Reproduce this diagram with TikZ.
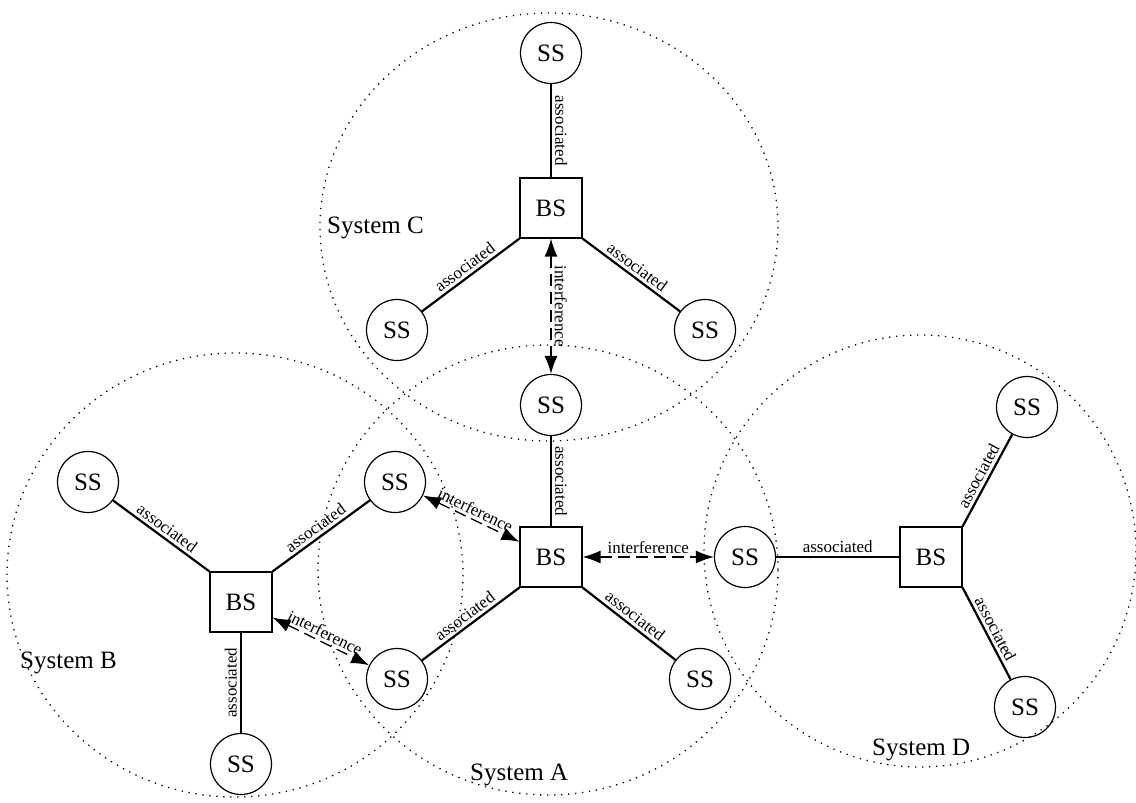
\documentclass[tikz,border=0pt]{standalone}
\usepackage{fontspec}
\setmainfont{Liberation Serif}
\usetikzlibrary{arrows.meta,shapes.geometric}

\begin{document}
\begin{tikzpicture}[
    x=1pt, y=-1pt,
    ss/.style={circle, draw, line width=1.2pt, minimum size=61pt, inner sep=0pt, font=\fontsize{25}{25}\selectfont},
    bs/.style={rectangle, draw, line width=1.2pt, minimum width=62pt, minimum height=60pt, inner sep=0pt, font=\fontsize{25}{25}\selectfont},
    assoc/.style={line width=2.2pt},
    interf/.style={line width=1.3pt, dash pattern=on 12pt off 6pt, {Latex[length=18pt,width=13pt]}-{Latex[length=18pt,width=13pt]}},
    lbl/.style={font=\fontsize{17}{17}\selectfont, sloped, above, inner sep=3pt},
    cell/.style={line width=1.3pt, dash pattern=on 1.3pt off 5.7pt},
    sysname/.style={font=\fontsize{25}{25}\selectfont, anchor=base west, inner sep=0pt}
]
    \useasboundingbox (0,0) rectangle (1136,803);

    % cells
    \draw[cell] (549,227) ellipse [x radius=229, y radius=214];
    \draw[cell] (548,570) ellipse [x radius=230, y radius=225];
    \draw[cell] (235,575) ellipse [x radius=228, y radius=222];
    \draw[cell] (920,551) ellipse [x radius=216, y radius=216];

    % System C
    \node[bs] (bsC) at (551,208) {BS};
    \node[ss] (ssCt) at (551,53) {SS};
    \node[ss] (ssCl) at (397,330) {SS};
    \node[ss] (ssCr) at (705,330) {SS};

    % System A
    \node[bs] (bsA) at (551,557) {BS};
    \node[ss] (ssAt) at (551,405) {SS};
    \node[ss] (ssAl) at (397,679) {SS};
    \node[ss] (ssAr) at (700,679) {SS};

    % System B
    \node[bs] (bsB) at (241,602) {BS};
    \node[ss] (ssBl) at (88,482) {SS};
    \node[ss] (ssBr) at (395,482) {SS};
    \node[ss] (ssBb) at (241,764) {SS};

    % System D
    \node[bs] (bsD) at (931,557) {BS};
    \node[ss] (ssDl) at (745,557) {SS};
    \node[ss] (ssDt) at (1027,407) {SS};
    \node[ss] (ssDb) at (1025,707) {SS};

    % system names
    \node[sysname] (nameC) at (327,233) {System C};
    \node[sysname] (nameB) at (20,668) {System B};
    \node[sysname] (nameA) at (470,780) {System A};
    \node[sysname] (nameD) at (872,755) {System D};

    % associated links
    \draw[assoc] (ssCt) -- node[lbl] {associated} (bsC);
    \draw[assoc] (ssCl) -- node[lbl] {associated} (bsC.south west);
    \draw[assoc] (bsC.south east) -- node[lbl] {associated} (ssCr);

    \draw[assoc] (ssAt) -- node[lbl] {associated} (bsA);
    \draw[assoc] (ssAl) -- node[lbl] {associated} (bsA.south west);
    \draw[assoc] (bsA.south east) -- node[lbl] {associated} (ssAr);

    \draw[assoc] (ssBl) -- node[lbl] {associated} (bsB.north west);
    \draw[assoc] (bsB.north east) -- node[lbl] {associated} (ssBr);
    \draw[assoc] (ssBb) -- node[lbl] {associated} (bsB);

    \draw[assoc] (ssDl) -- node[lbl] {associated} (bsD);
    \draw[assoc] (bsD.north east) -- node[lbl] {associated} (ssDt);
    \draw[assoc] (bsD.south east) -- node[lbl] {associated} (ssDb);

    % interference
    \draw[interf] (bsC) -- node[lbl] {interference} (ssAt);
    \draw[interf] (ssBr) -- node[lbl] {interference} (bsA);
    \draw[interf] (bsA) -- node[lbl] {interference} (ssDl);
    \draw[interf] (bsB) -- node[lbl] {interference} (ssAl);
\end{tikzpicture}
\end{document}
